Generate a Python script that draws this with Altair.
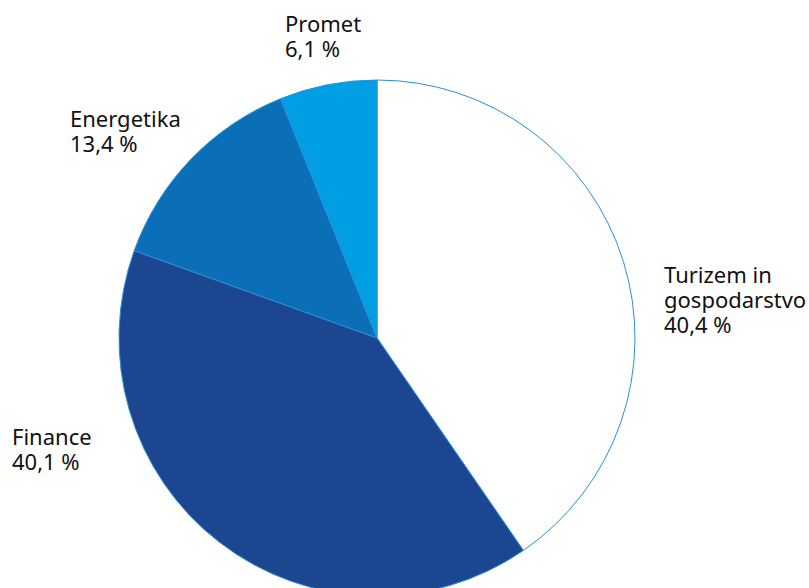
import altair as alt
import pandas as pd

categories = ["Turizem in gospodarstvo", "Finance", "Energetika", "Promet"]
values = [40.4, 40.1, 13.4, 6.1]
label_lines = [["Turizem in", "gospodarstvo", "40,4 %"], ["Finance", "40,1 %"],
               ["Energetika", "13,4 %"], ["Promet", "6,1 %"]]
colors = ["#ffffff", "#1d4690", "#0a6fb7", "#009fe3"]

df = pd.DataFrame({"cat": categories, "val": values, "ord": list(range(len(categories)))})

pie = alt.Chart(df).mark_arc(radius=258, stroke="#2b8fd6", strokeWidth=1).encode(
    theta=alt.Theta("val:Q", stack=True),
    order=alt.Order("ord:Q"),
    color=alt.Color("cat:N", scale=alt.Scale(domain=categories, range=colors), legend=None),
    x=alt.value(377),
    y=alt.value(338),
)

label_pos = {"Turizem in gospodarstvo": (664, 283), "Finance": (12, 445),
             "Energetika": (70, 127), "Promet": (285, 32)}

layers = [pie]
for cat, lines in zip(categories, label_lines):
    px, py = label_pos[cat]
    ldf = pd.DataFrame({"t": [lines]})
    layers.append(
        alt.Chart(ldf).mark_text(align="left", baseline="alphabetic", font="Noto Sans",
                                 fontSize=22, lineHeight=25, color="#111111").encode(
            text="t", x=alt.value(px), y=alt.value(py))
    )

chart = alt.layer(*layers).properties(
    width=809, height=588, autosize=alt.AutoSizeParams(type="none"), padding=0
).configure_view(stroke=None)

chart.save("out.html", embed_options={"renderer": "svg", "actions": False})
